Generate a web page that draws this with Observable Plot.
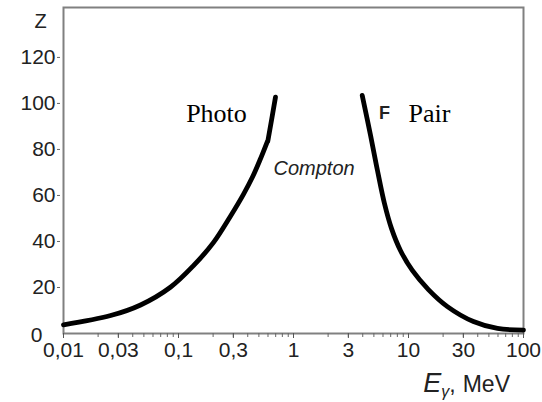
<!DOCTYPE html>
<html>
<head>
<meta charset="utf-8">
<script src="https://cdn.jsdelivr.net/npm/d3@7"></script>
<script src="https://cdn.jsdelivr.net/npm/@observablehq/plot@0.6"></script>
<style>
  html, body { margin: 0; padding: 0; background: white; }
</style>
</head>
<body>
<div id="chart"></div>
<script>
// Boundary Photo / Compton (lower piece and upper piece after the small step)
const photoLowE = [0.01, 0.0257, 0.0468, 0.085, 0.135, 0.201, 0.283, 0.367, 0.44, 0.512, 0.59];
const photoLowZ = [3.8, 7.8, 12.4, 20.1, 29.5, 39.5, 51, 60.5, 68, 75.5, 83.2];
const photoHighE = [0.598, 0.647, 0.697];
const photoHighZ = [83.6, 93.3, 102.7];
// Boundary Compton / Pair
const pairE = [3.96, 4.68, 5.37, 6.18, 7.11, 8.51, 10.8, 14.9, 21.8, 36.7, 59.4, 100];
const pairZ = [103.5, 86.1, 70.9, 56.5, 45.7, 36.1, 27.4, 19.1, 11.7, 5.2, 2.2, 1.5];

const xTickValues = [0.01, 0.03, 0.1, 0.3, 1, 3, 10, 30, 100];
const xTickLabels = ["0,01", "0,03", "0,1", "0,3", "1", "3", "10", "30", "100"];
const yTickValues = [20, 40, 60, 80, 100, 120];
const yTickLabels = ["20", "40", "60", "80", "100", "120"];

const serifLabels = ["Photo", "Pair"];
const serifE = [0.214, 15.2];
const serifZ = [95.7, 95.7];

const comptonLabel = ["Compton"];
const comptonE = [1.51];
const comptonZ = [71.7];

const fLabel = ["F"];
const fE = [6.18];
const fZ = [95.7];

// minor log ticks
const minorTicks = [];
for (const dec of [0.01, 0.1, 1, 10]) for (let k = 1; k <= 9; k++) minorTicks.push(+(dec * k).toPrecision(3));
minorTicks.push(100);

const photoLow = photoLowE.map((e, i) => ({e, z: photoLowZ[i]}));
const photoHigh = photoHighE.map((e, i) => ({e, z: photoHighZ[i]}));
const pair = pairE.map((e, i) => ({e, z: pairZ[i]}));
const serif = serifLabels.map((t, i) => ({t, e: serifE[i], z: serifZ[i]}));
const compton = comptonLabel.map((t, i) => ({t, e: comptonE[i], z: comptonZ[i]}));
const fl = fLabel.map((t, i) => ({t, e: fE[i], z: fZ[i]}));
const xt = xTickValues.map((v, i) => ({v, t: xTickLabels[i]}));

const FONT = "'Liberation Sans', Arial, sans-serif";
const H = 402;
const plot = Plot.plot({
  width: 542,
  height: H,
  marginLeft: 63,
  marginRight: 19,
  marginTop: 7,
  marginBottom: 69,
  x: {type: "log", domain: [0.01, 100]},
  y: {domain: [0, 141.7]},
  style: {fontFamily: FONT, fontSize: "21px", color: "#222", background: "white"},
  marks: [
    Plot.frame({stroke: "#808080", strokeWidth: 2}),
    Plot.axisX({ticks: minorTicks, tickSize: 4, tickFormat: () => "", stroke: "#666", label: null}),
    Plot.axisX({ticks: xTickValues, tickSize: 5, tickFormat: () => "", stroke: "#555", label: null}),
    Plot.text(xt, {x: "v", text: "t", frameAnchor: "bottom", lineAnchor: "top", dy: 9, fontSize: 21, fill: "#222"}),
    Plot.axisY({ticks: yTickValues, tickSize: 3, tickPadding: 2, dx: -3, stroke: "#666", fontSize: 21,
      tickFormat: d => yTickLabels[yTickValues.indexOf(d)], label: null}),
    Plot.text(["0"], {x: () => 0.01, y: () => 0, dx: -21, dy: 2, textAnchor: "end", fontSize: 21, fill: "#222"}),
    Plot.text(["Z"], {frameAnchor: "top-left", dx: -29, dy: 6, fontSize: 20, fill: "#222"}),
    Plot.line(photoLow, {x: "e", y: "z", stroke: "black", strokeWidth: 4.8, curve: "catmull-rom"}),
    Plot.line(photoHigh, {x: "e", y: "z", stroke: "black", strokeWidth: 4.8}),
    Plot.line(pair, {x: "e", y: "z", stroke: "black", strokeWidth: 4.8, curve: "catmull-rom"}),
    Plot.text(serif, {x: "e", y: "z", text: "t", fontFamily: "'Liberation Serif', 'Times New Roman', serif", fontSize: 26, fill: "black"}),
    Plot.text(compton, {x: "e", y: "z", text: "t", fontStyle: "italic", fontSize: 20, fill: "#222"}),
    Plot.text(fl, {x: "e", y: "z", text: "t", fontSize: 18, fontWeight: "bold", fill: "#222"})
  ]
});

// x axis label with italic E and subscript gamma
const svg = d3.select(plot);
const xs = plot.scale("x");
const lab = svg.append("text")
  .attr("x", xs.apply(100) - 13)
  .attr("y", H - 10)
  .attr("text-anchor", "end")
  .attr("font-family", FONT)
  .attr("font-size", 23)
  .attr("fill", "#222");
lab.append("tspan").attr("font-style", "italic").attr("font-size", 27).text("E");
lab.append("tspan").attr("font-style", "italic").attr("font-size", 16).attr("dy", 5).text("γ");
lab.append("tspan").attr("dy", -5).text(",");
lab.append("tspan").attr("dx", 7).text("MeV");

document.getElementById("chart").appendChild(plot);
</script>
</body>
</html>
